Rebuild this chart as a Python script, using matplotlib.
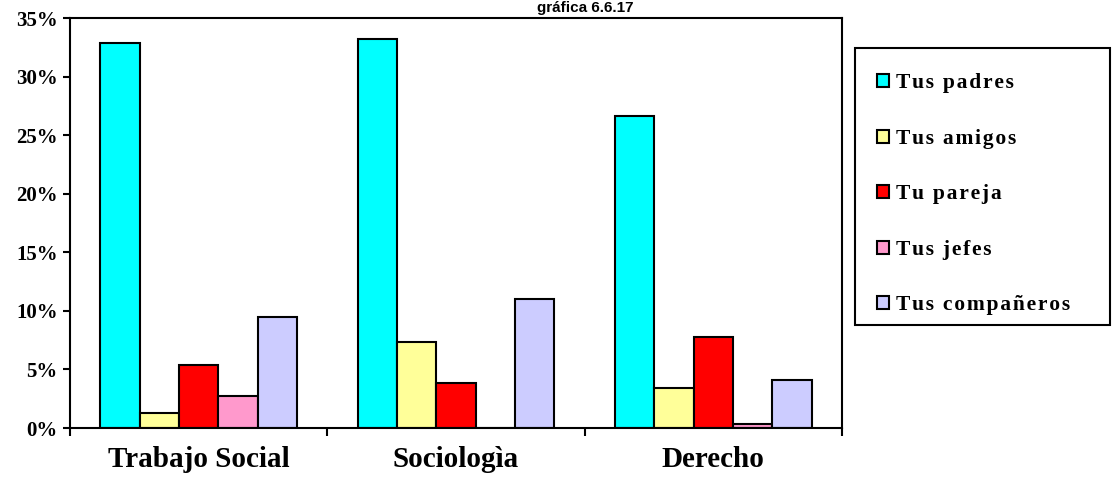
import numpy as np
import matplotlib
matplotlib.use('Agg')
from matplotlib import pyplot as plt
from matplotlib.patches import Rectangle

carreras = ['Trabajo Social', 'Sociologìa', 'Derecho']
series = ['Tus padres', 'Tus amigos', 'Tu pareja', 'Tus jefes', 'Tus compañeros']
padres = [32.9, 33.2, 26.6]
amigos = [1.3, 7.3, 3.4]
pareja = [5.4, 3.8, 7.8]
jefes = [2.7, 0.0, 0.3]
companeros = [9.5, 11.0, 4.1]
colores = ['#00FFFF', '#FFFF99', '#FF0000', '#FF99CC', '#CCCCFF']

valores = [padres, amigos, pareja, jefes, companeros]

fig = plt.figure(figsize=(11.2, 4.93), dpi=100)
ax = fig.add_axes([70/1120, 1-428/493, (842-70)/1120, (428-18)/493])

x = np.arange(len(carreras))
w = 0.153
for i, (vals, col, lab) in enumerate(zip(valores, colores, series)):
    # separacion entre letras como en la leyenda original
    ax.bar(x + (i - 2) * w, vals, w, color=col, edgecolor='black', linewidth=1.5,
           label='\u200a'.join(lab), zorder=2)

ax.set_xlim(-0.5, 2.5)
ax.set_ylim(0, 35)
ax.set_yticks(np.arange(0, 36, 5))
ax.set_yticklabels(['%d%%' % v for v in range(0, 36, 5)], fontfamily='Liberation Serif', fontweight='bold', fontsize=15)
ax.set_xticks([-0.5, 0.5, 1.5, 2.5])
ax.set_xticklabels([])
ax.set_xticks(x, minor=True)
ax.set_xticklabels(carreras, minor=True, fontfamily='Liberation Serif', fontweight='bold', fontsize=21)
ax.tick_params(axis='x', which='minor', length=0, pad=13)
ax.tick_params(axis='x', which='major', direction='out', length=6, width=1.5)
ax.tick_params(axis='y', direction='out', length=5, width=1.5, pad=4)
for s in ax.spines.values():
    s.set_linewidth(1.5)

# titulo
fig.text(585/1120, 1 - 1/493, 'gráfica 6.6.17', ha='center', va='top',
         fontfamily='Liberation Sans', fontweight='bold', fontsize=11)

# caja de la leyenda
fig.patches.append(Rectangle((855/1120, 1-325/493), (1110-855)/1120, (325-48)/493,
                             transform=fig.transFigure, facecolor='white', edgecolor='black', linewidth=1.5))
leg = fig.legend(loc='upper left', bbox_to_anchor=(858/1120, 1-54/493), frameon=False,
                 prop={'family': ['Liberation Serif', 'DejaVu Serif'], 'weight': 'bold', 'size': 15.5},
                 handlelength=0.55, handleheight=0.55, handletextpad=0.3, labelspacing=1.65)
for h in leg.legend_handles:
    h.set_linewidth(1.5)

plt.savefig('out.png', dpi=100)
